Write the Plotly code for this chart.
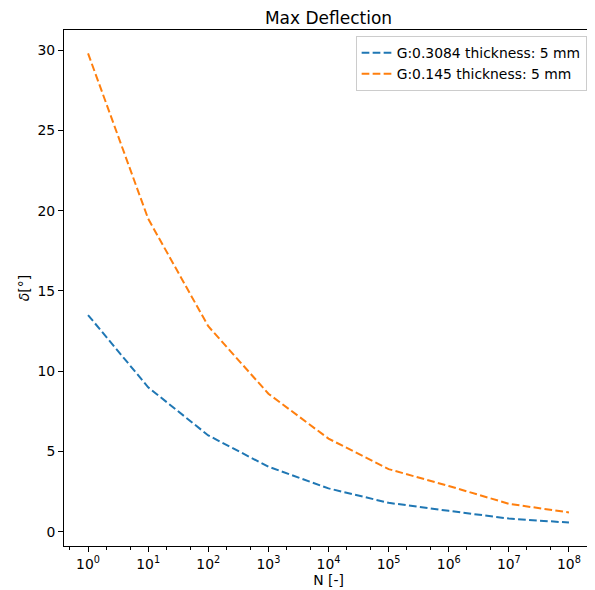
import plotly.graph_objects as go

N = [1, 10, 100, 1e3, 1e4, 1e5, 1e6, 1e7, 1e8]
blue_vals = [13.5, 9.0, 6.0, 4.05, 2.7, 1.8, 1.3, 0.82, 0.57]
orange_vals = [29.8, 19.5, 12.8, 8.6, 5.8, 3.9, 2.85, 1.74, 1.2]
series_names = ["G:0.3084 thickness: 5 mm", "G:0.145 thickness: 5 mm"]
x_tickvals = [1, 10, 100, 1e3, 1e4, 1e5, 1e6, 1e7, 1e8]
x_ticktext = ["10<sup>%d</sup>" % i for i in range(9)]
y_tickvals = [0, 5, 10, 15, 20, 25, 30]

dash = "7.7px,3.3px"
fig = go.Figure()
fig.add_trace(go.Scatter(x=N, y=blue_vals, mode="lines", name=series_names[0],
                         line=dict(color="#1f77b4", width=2, dash=dash)))
fig.add_trace(go.Scatter(x=N, y=orange_vals, mode="lines", name=series_names[1],
                         line=dict(color="#ff7f0e", width=2, dash=dash)))

FS = 13.9
axis_common = dict(showline=True, linecolor="black", linewidth=1, mirror=True,
                   ticks="outside", ticklen=5, tickwidth=1, tickcolor="black",
                   showgrid=False, zeroline=False, automargin=False,
                   tickfont=dict(family="DejaVu Sans", size=FS, color="black"))

fig.update_layout(
    width=587, height=582,
    margin=dict(l=55.5, r=1.5, t=22, b=44, autoexpand=False),
    paper_bgcolor="white", plot_bgcolor="white",
    title=dict(text="Max Deflection", x=0.546, xanchor="center", y=0.983, yanchor="middle",
               font=dict(family="DejaVu Sans", size=17, color="black"), automargin=False),
    font=dict(family="DejaVu Sans", size=FS, color="black"),
    xaxis=dict(type="log", range=[-0.4, 8.4], tickvals=x_tickvals, ticktext=x_ticktext,
               title=dict(text="N [-]", font=dict(size=FS), standoff=2),
               minor=dict(ticks="outside", ticklen=2.5, tickwidth=0.8, tickcolor="black", showgrid=False),
               **axis_common),
    yaxis=dict(range=[-0.89, 31.26], tickvals=y_tickvals,
               title=dict(text="<i>δ</i>[°]", font=dict(size=FS), standoff=4),
               **axis_common),
    legend=dict(x=0.988, y=0.988, xanchor="right", yanchor="top",
                bordercolor="#cccccc", borderwidth=1, bgcolor="rgba(255,255,255,0.8)",
                font=dict(family="DejaVu Sans", size=FS), tracegroupgap=0,
                itemwidth=30),
    showlegend=True,
)

fig.write_html("out.html")
